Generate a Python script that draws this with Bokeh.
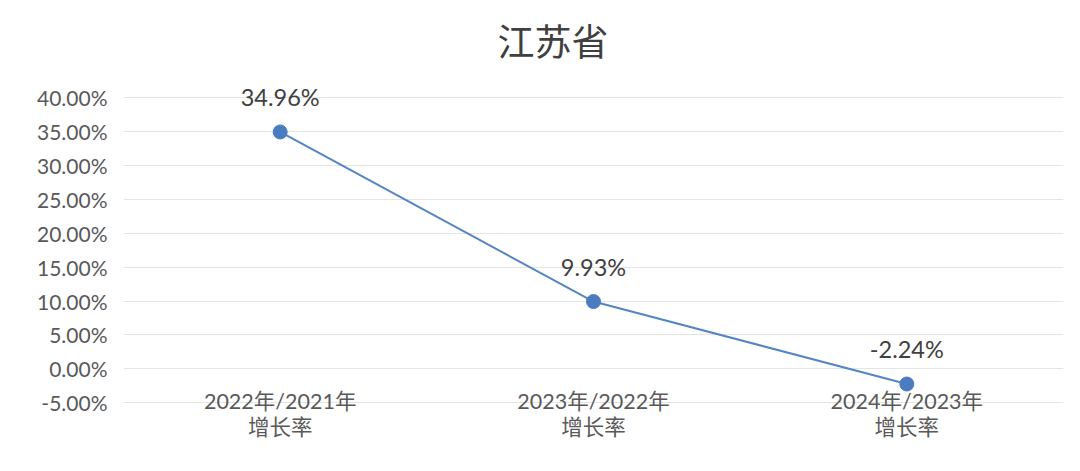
from bokeh.plotting import figure
from bokeh.models import FactorRange, Range1d, FixedTicker, NumeralTickFormatter, ColumnDataSource
from bokeh.core.properties import value
from bokeh.embed import file_html
from bokeh.resources import INLINE

categories = ["2022年/2021年\n增长率", "2023年/2022年\n增长率", "2024年/2023年\n增长率"]
growth = [0.3496, 0.0993, -0.0224]
labels = ["34.96%", "9.93%", "-2.24%"]
y_ticks = [-0.05, 0.0, 0.05, 0.10, 0.15, 0.20, 0.25, 0.30, 0.35, 0.40]

src = ColumnDataSource(dict(x=categories, y=growth, lab=labels, base=[0.0] * len(categories)))

p = figure(width=1072, height=463, output_backend="svg", toolbar_location=None,
           x_range=FactorRange(*categories, range_padding=0), y_range=Range1d(-0.125, 0.43),
           min_border_left=123, min_border_right=9, min_border_top=77, min_border_bottom=10)
p.outline_line_color = None
p.background_fill_color = "white"
p.border_fill_color = "white"

p.title.text = "江苏省"
p.title.align = "left"
p.title.offset = 374
p.title.text_font = "Noto Sans CJK SC"
p.title.text_font_size = "37px"
p.title.text_font_style = "normal"
p.title.text_color = "#404040"
p.title.standoff = 21

p.xaxis.visible = False
p.xgrid.grid_line_color = None

p.yaxis.ticker = FixedTicker(ticks=y_ticks)
p.yaxis.formatter = NumeralTickFormatter(format="0.00%")
p.yaxis.axis_line_color = None
p.yaxis.major_tick_line_color = None
p.yaxis.minor_tick_line_color = None
p.yaxis.major_tick_out = 0
p.yaxis.major_label_standoff = 16
p.yaxis.major_label_text_font = "Lato"
p.yaxis.major_label_text_font_size = "21px"
p.yaxis.major_label_text_color = "#595959"
p.ygrid.ticker = FixedTicker(ticks=y_ticks)
p.ygrid.grid_line_color = "#e4e4e4"
p.ygrid.grid_line_width = 1

p.line("x", "y", source=src, line_color="#5585c3", line_width=2)
p.scatter("x", "y", source=src, size=14, fill_color="#4a7cbf", line_color="#4a7cbf")

p.text("x", "y", text="lab", source=src, text_align="center", text_baseline="middle",
       y_offset=-35, text_font=value("Lato"), text_font_size="23.5px", text_color="#404040")

p.text("x", "base", text="x", source=src, text_align="center", text_baseline="top",
       y_offset=19, text_font=value("Lato, 'Noto Sans CJK SC'"), text_font_size="21.5px",
       text_color="#595959", text_line_height=1.0)

open("out.html", "w").write(file_html(p, INLINE))
